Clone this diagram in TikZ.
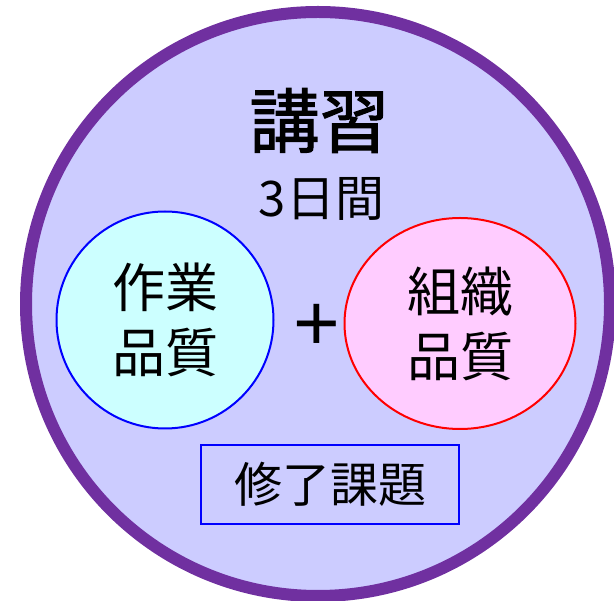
\documentclass[tikz,border=0pt]{standalone}
\usepackage{fontspec}
\setmainfont{Noto Sans CJK JP}
\newfontfamily\titlefont[FakeBold=1.5]{Noto Sans CJK JP}
\newfontfamily\plusfont{Liberation Sans}
\usetikzlibrary{shapes.geometric}
\definecolor{outerpurple}{HTML}{7030A0}
\definecolor{lavender}{HTML}{CCCCFF}
\definecolor{lightcyan}{HTML}{CCFFFF}
\definecolor{lightpink}{HTML}{FFCCFF}
\definecolor{pureblue}{HTML}{0000FF}
\definecolor{purered}{HTML}{FF0000}
\tikzset{
  bigtext/.style={font=\fontsize{53}{65}\selectfont, align=center, text=black},
  midtext/.style={font=\fontsize{48}{60}\selectfont, text=black},
}
\begin{document}
\begin{tikzpicture}[x=1pt,y=-1pt]
\useasboundingbox (0,0) rectangle (614,601);
\node[circle, draw=outerpurple, fill=lavender, line width=12pt, minimum size=584pt, inner sep=0pt] (outer) at (318,304) {};
\node[font=\titlefont\fontsize{70}{70}\selectfont, inner sep=0pt] (title) at (319.5,120.5) {講習};
\node[font=\fontsize{49}{60}\selectfont, inner sep=0pt] (days) at (321.5,198.5) {3日間};
\node[circle, draw=pureblue, fill=lightcyan, line width=2pt, minimum size=217pt, inner sep=0pt, bigtext] (work) at (165,320) {作業\\品質};
\node[ellipse, draw=purered, fill=lightpink, line width=2pt, minimum width=231pt, minimum height=211pt, inner sep=0pt, bigtext] (org) at (460,323.5) {組織\\品質};
\node[font=\plusfont\fontsize{80}{80}\selectfont, inner sep=0pt] (plus) at (317,327) {+};
\node[rectangle, draw=pureblue, line width=2pt, minimum width=258pt, minimum height=79pt, inner sep=0pt, midtext] (task) at (330,484.5) {修了課題};
\end{tikzpicture}
\end{document}
